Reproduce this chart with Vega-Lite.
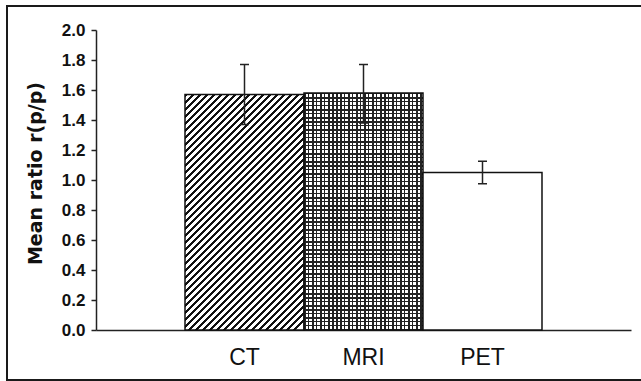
{
  "$schema": "https://vega.github.io/schema/vega-lite/v6.json",
  "width": 639,
  "height": 374,
  "autosize": {"type": "none"},
  "padding": {"left": 7, "top": 6, "right": -5, "bottom": 1},
  "background": "white",
  "config": {"view": {"stroke": "#1a1a1a", "strokeWidth": 2, "fill": "white"}},
  "data": {"values": [
    {"modality": "CT", "mean": 1.57, "lo": 1.37, "hi": 1.77},
    {"modality": "MRI", "mean": 1.58, "lo": 1.38, "hi": 1.77},
    {"modality": "PET", "mean": 1.05, "lo": 0.975, "hi": 1.125}
  ]},
  "encoding": {
    "x": {
      "field": "modality", "type": "nominal",
      "scale": {"domain": ["CT", "MRI", "PET"], "range": [89, 624], "paddingInner": 0, "paddingOuter": 0.7479},
      "axis": {"title": null, "orient": "bottom", "offset": -50, "labelAngle": 0, "ticks": false, "tickSize": 0, "labelPadding": 16, "labelFont": "Liberation Sans", "labelFontSize": 23, "labelColor": "#111", "domainColor": "#222", "domainWidth": 1.5}
    },
    "y": {
      "field": "mean", "type": "quantitative", "title": "Mean ratio r(p/p)",
      "scale": {"domain": [0, 2], "range": [324, 24], "nice": false, "zero": true},
      "axis": {"title": "Mean ratio r(p/p)", "orient": "left", "offset": -89, "values": [0, 0.2, 0.4, 0.6, 0.8, 1.0, 1.2, 1.4, 1.6, 1.8, 2.0], "format": ".1f", "grid": false, "tickSize": 5, "tickWidth": 1.5, "tickColor": "#222", "domainColor": "#222", "domainWidth": 1.5, "labelPadding": 6, "labelFont": "Liberation Sans", "labelFontSize": 17, "labelFontWeight": "bold", "labelColor": "#111", "titleFont": "DejaVu Sans", "titleFontSize": 19, "titleFontWeight": "bold", "titleColor": "#111", "titlePadding": 16, "titleY": 167}
    }
  },
  "layer": [
    {
      "transform": [{"filter": "datum.modality === 'CT'"}],
      "mark": {"type": "bar", "stroke": "#111", "strokeWidth": 1.5, "fill": {"gradient": "linear", "x1": 0, "y1": 0, "x2": 0.598, "y2": 1.184, "stops": [
        {"offset":0,"color":"#111"},{"offset":0.009,"color":"#111"},{"offset":0.009,"color":"#fff"},{"offset":0.02,"color":"#fff"},
        {"offset":0.02,"color":"#111"},{"offset":0.029,"color":"#111"},{"offset":0.029,"color":"#fff"},{"offset":0.04,"color":"#fff"},
        {"offset":0.04,"color":"#111"},{"offset":0.049,"color":"#111"},{"offset":0.049,"color":"#fff"},{"offset":0.06,"color":"#fff"},
        {"offset":0.06,"color":"#111"},{"offset":0.069,"color":"#111"},{"offset":0.069,"color":"#fff"},{"offset":0.08,"color":"#fff"},
        {"offset":0.08,"color":"#111"},{"offset":0.089,"color":"#111"},{"offset":0.089,"color":"#fff"},{"offset":0.1,"color":"#fff"},
        {"offset":0.1,"color":"#111"},{"offset":0.109,"color":"#111"},{"offset":0.109,"color":"#fff"},{"offset":0.12,"color":"#fff"},
        {"offset":0.12,"color":"#111"},{"offset":0.129,"color":"#111"},{"offset":0.129,"color":"#fff"},{"offset":0.14,"color":"#fff"},
        {"offset":0.14,"color":"#111"},{"offset":0.149,"color":"#111"},{"offset":0.149,"color":"#fff"},{"offset":0.16,"color":"#fff"},
        {"offset":0.16,"color":"#111"},{"offset":0.169,"color":"#111"},{"offset":0.169,"color":"#fff"},{"offset":0.18,"color":"#fff"},
        {"offset":0.18,"color":"#111"},{"offset":0.189,"color":"#111"},{"offset":0.189,"color":"#fff"},{"offset":0.2,"color":"#fff"},
        {"offset":0.2,"color":"#111"},{"offset":0.209,"color":"#111"},{"offset":0.209,"color":"#fff"},{"offset":0.22,"color":"#fff"},
        {"offset":0.22,"color":"#111"},{"offset":0.229,"color":"#111"},{"offset":0.229,"color":"#fff"},{"offset":0.24,"color":"#fff"},
        {"offset":0.24,"color":"#111"},{"offset":0.249,"color":"#111"},{"offset":0.249,"color":"#fff"},{"offset":0.26,"color":"#fff"},
        {"offset":0.26,"color":"#111"},{"offset":0.269,"color":"#111"},{"offset":0.269,"color":"#fff"},{"offset":0.28,"color":"#fff"},
        {"offset":0.28,"color":"#111"},{"offset":0.289,"color":"#111"},{"offset":0.289,"color":"#fff"},{"offset":0.3,"color":"#fff"},
        {"offset":0.3,"color":"#111"},{"offset":0.309,"color":"#111"},{"offset":0.309,"color":"#fff"},{"offset":0.32,"color":"#fff"},
        {"offset":0.32,"color":"#111"},{"offset":0.329,"color":"#111"},{"offset":0.329,"color":"#fff"},{"offset":0.34,"color":"#fff"},
        {"offset":0.34,"color":"#111"},{"offset":0.349,"color":"#111"},{"offset":0.349,"color":"#fff"},{"offset":0.36,"color":"#fff"},
        {"offset":0.36,"color":"#111"},{"offset":0.369,"color":"#111"},{"offset":0.369,"color":"#fff"},{"offset":0.38,"color":"#fff"},
        {"offset":0.38,"color":"#111"},{"offset":0.389,"color":"#111"},{"offset":0.389,"color":"#fff"},{"offset":0.4,"color":"#fff"},
        {"offset":0.4,"color":"#111"},{"offset":0.409,"color":"#111"},{"offset":0.409,"color":"#fff"},{"offset":0.42,"color":"#fff"},
        {"offset":0.42,"color":"#111"},{"offset":0.429,"color":"#111"},{"offset":0.429,"color":"#fff"},{"offset":0.44,"color":"#fff"},
        {"offset":0.44,"color":"#111"},{"offset":0.449,"color":"#111"},{"offset":0.449,"color":"#fff"},{"offset":0.46,"color":"#fff"},
        {"offset":0.46,"color":"#111"},{"offset":0.469,"color":"#111"},{"offset":0.469,"color":"#fff"},{"offset":0.48,"color":"#fff"},
        {"offset":0.48,"color":"#111"},{"offset":0.489,"color":"#111"},{"offset":0.489,"color":"#fff"},{"offset":0.5,"color":"#fff"},
        {"offset":0.5,"color":"#111"},{"offset":0.509,"color":"#111"},{"offset":0.509,"color":"#fff"},{"offset":0.52,"color":"#fff"},
        {"offset":0.52,"color":"#111"},{"offset":0.529,"color":"#111"},{"offset":0.529,"color":"#fff"},{"offset":0.54,"color":"#fff"},
        {"offset":0.54,"color":"#111"},{"offset":0.549,"color":"#111"},{"offset":0.549,"color":"#fff"},{"offset":0.56,"color":"#fff"},
        {"offset":0.56,"color":"#111"},{"offset":0.569,"color":"#111"},{"offset":0.569,"color":"#fff"},{"offset":0.58,"color":"#fff"},
        {"offset":0.58,"color":"#111"},{"offset":0.589,"color":"#111"},{"offset":0.589,"color":"#fff"},{"offset":0.6,"color":"#fff"},
        {"offset":0.6,"color":"#111"},{"offset":0.609,"color":"#111"},{"offset":0.609,"color":"#fff"},{"offset":0.62,"color":"#fff"},
        {"offset":0.62,"color":"#111"},{"offset":0.629,"color":"#111"},{"offset":0.629,"color":"#fff"},{"offset":0.64,"color":"#fff"},
        {"offset":0.64,"color":"#111"},{"offset":0.649,"color":"#111"},{"offset":0.649,"color":"#fff"},{"offset":0.66,"color":"#fff"},
        {"offset":0.66,"color":"#111"},{"offset":0.669,"color":"#111"},{"offset":0.669,"color":"#fff"},{"offset":0.68,"color":"#fff"},
        {"offset":0.68,"color":"#111"},{"offset":0.689,"color":"#111"},{"offset":0.689,"color":"#fff"},{"offset":0.7,"color":"#fff"},
        {"offset":0.7,"color":"#111"},{"offset":0.709,"color":"#111"},{"offset":0.709,"color":"#fff"},{"offset":0.72,"color":"#fff"},
        {"offset":0.72,"color":"#111"},{"offset":0.729,"color":"#111"},{"offset":0.729,"color":"#fff"},{"offset":0.74,"color":"#fff"},
        {"offset":0.74,"color":"#111"},{"offset":0.749,"color":"#111"},{"offset":0.749,"color":"#fff"},{"offset":0.76,"color":"#fff"},
        {"offset":0.76,"color":"#111"},{"offset":0.769,"color":"#111"},{"offset":0.769,"color":"#fff"},{"offset":0.78,"color":"#fff"},
        {"offset":0.78,"color":"#111"},{"offset":0.789,"color":"#111"},{"offset":0.789,"color":"#fff"},{"offset":0.8,"color":"#fff"},
        {"offset":0.8,"color":"#111"},{"offset":0.809,"color":"#111"},{"offset":0.809,"color":"#fff"},{"offset":0.82,"color":"#fff"},
        {"offset":0.82,"color":"#111"},{"offset":0.829,"color":"#111"},{"offset":0.829,"color":"#fff"},{"offset":0.84,"color":"#fff"},
        {"offset":0.84,"color":"#111"},{"offset":0.849,"color":"#111"},{"offset":0.849,"color":"#fff"},{"offset":0.86,"color":"#fff"},
        {"offset":0.86,"color":"#111"},{"offset":0.869,"color":"#111"},{"offset":0.869,"color":"#fff"},{"offset":0.88,"color":"#fff"},
        {"offset":0.88,"color":"#111"},{"offset":0.889,"color":"#111"},{"offset":0.889,"color":"#fff"},{"offset":0.9,"color":"#fff"},
        {"offset":0.9,"color":"#111"},{"offset":0.909,"color":"#111"},{"offset":0.909,"color":"#fff"},{"offset":0.92,"color":"#fff"},
        {"offset":0.92,"color":"#111"},{"offset":0.929,"color":"#111"},{"offset":0.929,"color":"#fff"},{"offset":0.94,"color":"#fff"},
        {"offset":0.94,"color":"#111"},{"offset":0.949,"color":"#111"},{"offset":0.949,"color":"#fff"},{"offset":0.96,"color":"#fff"},
        {"offset":0.96,"color":"#111"},{"offset":0.969,"color":"#111"},{"offset":0.969,"color":"#fff"},{"offset":0.98,"color":"#fff"},
        {"offset":0.98,"color":"#111"},{"offset":0.989,"color":"#111"},{"offset":0.989,"color":"#fff"},{"offset":1,"color":"#fff"}
      ]}}
    },
    {
      "transform": [{"filter": "datum.modality === 'MRI'"}],
      "mark": {"type": "bar", "fill": {"gradient": "linear", "x1": 0, "y1": 0, "x2": 0, "y2": 1, "stops": [
        {"offset":0,"color":"#222"},{"offset":0.006329,"color":"#222"},{"offset":0.006329,"color":"#fff"},{"offset":0.016878,"color":"#fff"},
        {"offset":0.016878,"color":"#222"},{"offset":0.023207,"color":"#222"},{"offset":0.023207,"color":"#fff"},{"offset":0.033755,"color":"#fff"},
        {"offset":0.033755,"color":"#222"},{"offset":0.040084,"color":"#222"},{"offset":0.040084,"color":"#fff"},{"offset":0.050633,"color":"#fff"},
        {"offset":0.050633,"color":"#222"},{"offset":0.056962,"color":"#222"},{"offset":0.056962,"color":"#fff"},{"offset":0.067511,"color":"#fff"},
        {"offset":0.067511,"color":"#222"},{"offset":0.07384,"color":"#222"},{"offset":0.07384,"color":"#fff"},{"offset":0.084388,"color":"#fff"},
        {"offset":0.084388,"color":"#222"},{"offset":0.090717,"color":"#222"},{"offset":0.090717,"color":"#fff"},{"offset":0.101266,"color":"#fff"},
        {"offset":0.101266,"color":"#222"},{"offset":0.107595,"color":"#222"},{"offset":0.107595,"color":"#fff"},{"offset":0.118143,"color":"#fff"},
        {"offset":0.118143,"color":"#222"},{"offset":0.124473,"color":"#222"},{"offset":0.124473,"color":"#fff"},{"offset":0.135021,"color":"#fff"},
        {"offset":0.135021,"color":"#222"},{"offset":0.14135,"color":"#222"},{"offset":0.14135,"color":"#fff"},{"offset":0.151899,"color":"#fff"},
        {"offset":0.151899,"color":"#222"},{"offset":0.158228,"color":"#222"},{"offset":0.158228,"color":"#fff"},{"offset":0.168776,"color":"#fff"},
        {"offset":0.168776,"color":"#222"},{"offset":0.175105,"color":"#222"},{"offset":0.175105,"color":"#fff"},{"offset":0.185654,"color":"#fff"},
        {"offset":0.185654,"color":"#222"},{"offset":0.191983,"color":"#222"},{"offset":0.191983,"color":"#fff"},{"offset":0.202532,"color":"#fff"},
        {"offset":0.202532,"color":"#222"},{"offset":0.208861,"color":"#222"},{"offset":0.208861,"color":"#fff"},{"offset":0.219409,"color":"#fff"},
        {"offset":0.219409,"color":"#222"},{"offset":0.225738,"color":"#222"},{"offset":0.225738,"color":"#fff"},{"offset":0.236287,"color":"#fff"},
        {"offset":0.236287,"color":"#222"},{"offset":0.242616,"color":"#222"},{"offset":0.242616,"color":"#fff"},{"offset":0.253165,"color":"#fff"},
        {"offset":0.253165,"color":"#222"},{"offset":0.259494,"color":"#222"},{"offset":0.259494,"color":"#fff"},{"offset":0.270042,"color":"#fff"},
        {"offset":0.270042,"color":"#222"},{"offset":0.276371,"color":"#222"},{"offset":0.276371,"color":"#fff"},{"offset":0.28692,"color":"#fff"},
        {"offset":0.28692,"color":"#222"},{"offset":0.293249,"color":"#222"},{"offset":0.293249,"color":"#fff"},{"offset":0.303797,"color":"#fff"},
        {"offset":0.303797,"color":"#222"},{"offset":0.310127,"color":"#222"},{"offset":0.310127,"color":"#fff"},{"offset":0.320675,"color":"#fff"},
        {"offset":0.320675,"color":"#222"},{"offset":0.327004,"color":"#222"},{"offset":0.327004,"color":"#fff"},{"offset":0.337553,"color":"#fff"},
        {"offset":0.337553,"color":"#222"},{"offset":0.343882,"color":"#222"},{"offset":0.343882,"color":"#fff"},{"offset":0.35443,"color":"#fff"},
        {"offset":0.35443,"color":"#222"},{"offset":0.360759,"color":"#222"},{"offset":0.360759,"color":"#fff"},{"offset":0.371308,"color":"#fff"},
        {"offset":0.371308,"color":"#222"},{"offset":0.377637,"color":"#222"},{"offset":0.377637,"color":"#fff"},{"offset":0.388186,"color":"#fff"},
        {"offset":0.388186,"color":"#222"},{"offset":0.394515,"color":"#222"},{"offset":0.394515,"color":"#fff"},{"offset":0.405063,"color":"#fff"},
        {"offset":0.405063,"color":"#222"},{"offset":0.411392,"color":"#222"},{"offset":0.411392,"color":"#fff"},{"offset":0.421941,"color":"#fff"},
        {"offset":0.421941,"color":"#222"},{"offset":0.42827,"color":"#222"},{"offset":0.42827,"color":"#fff"},{"offset":0.438819,"color":"#fff"},
        {"offset":0.438819,"color":"#222"},{"offset":0.445148,"color":"#222"},{"offset":0.445148,"color":"#fff"},{"offset":0.455696,"color":"#fff"},
        {"offset":0.455696,"color":"#222"},{"offset":0.462025,"color":"#222"},{"offset":0.462025,"color":"#fff"},{"offset":0.472574,"color":"#fff"},
        {"offset":0.472574,"color":"#222"},{"offset":0.478903,"color":"#222"},{"offset":0.478903,"color":"#fff"},{"offset":0.489451,"color":"#fff"},
        {"offset":0.489451,"color":"#222"},{"offset":0.495781,"color":"#222"},{"offset":0.495781,"color":"#fff"},{"offset":0.506329,"color":"#fff"},
        {"offset":0.506329,"color":"#222"},{"offset":0.512658,"color":"#222"},{"offset":0.512658,"color":"#fff"},{"offset":0.523207,"color":"#fff"},
        {"offset":0.523207,"color":"#222"},{"offset":0.529536,"color":"#222"},{"offset":0.529536,"color":"#fff"},{"offset":0.540084,"color":"#fff"},
        {"offset":0.540084,"color":"#222"},{"offset":0.546414,"color":"#222"},{"offset":0.546414,"color":"#fff"},{"offset":0.556962,"color":"#fff"},
        {"offset":0.556962,"color":"#222"},{"offset":0.563291,"color":"#222"},{"offset":0.563291,"color":"#fff"},{"offset":0.57384,"color":"#fff"},
        {"offset":0.57384,"color":"#222"},{"offset":0.580169,"color":"#222"},{"offset":0.580169,"color":"#fff"},{"offset":0.590717,"color":"#fff"},
        {"offset":0.590717,"color":"#222"},{"offset":0.597046,"color":"#222"},{"offset":0.597046,"color":"#fff"},{"offset":0.607595,"color":"#fff"},
        {"offset":0.607595,"color":"#222"},{"offset":0.613924,"color":"#222"},{"offset":0.613924,"color":"#fff"},{"offset":0.624473,"color":"#fff"},
        {"offset":0.624473,"color":"#222"},{"offset":0.630802,"color":"#222"},{"offset":0.630802,"color":"#fff"},{"offset":0.64135,"color":"#fff"},
        {"offset":0.64135,"color":"#222"},{"offset":0.647679,"color":"#222"},{"offset":0.647679,"color":"#fff"},{"offset":0.658228,"color":"#fff"},
        {"offset":0.658228,"color":"#222"},{"offset":0.664557,"color":"#222"},{"offset":0.664557,"color":"#fff"},{"offset":0.675105,"color":"#fff"},
        {"offset":0.675105,"color":"#222"},{"offset":0.681435,"color":"#222"},{"offset":0.681435,"color":"#fff"},{"offset":0.691983,"color":"#fff"},
        {"offset":0.691983,"color":"#222"},{"offset":0.698312,"color":"#222"},{"offset":0.698312,"color":"#fff"},{"offset":0.708861,"color":"#fff"},
        {"offset":0.708861,"color":"#222"},{"offset":0.71519,"color":"#222"},{"offset":0.71519,"color":"#fff"},{"offset":0.725738,"color":"#fff"},
        {"offset":0.725738,"color":"#222"},{"offset":0.732068,"color":"#222"},{"offset":0.732068,"color":"#fff"},{"offset":0.742616,"color":"#fff"},
        {"offset":0.742616,"color":"#222"},{"offset":0.748945,"color":"#222"},{"offset":0.748945,"color":"#fff"},{"offset":0.759494,"color":"#fff"},
        {"offset":0.759494,"color":"#222"},{"offset":0.765823,"color":"#222"},{"offset":0.765823,"color":"#fff"},{"offset":0.776371,"color":"#fff"},
        {"offset":0.776371,"color":"#222"},{"offset":0.7827,"color":"#222"},{"offset":0.7827,"color":"#fff"},{"offset":0.793249,"color":"#fff"},
        {"offset":0.793249,"color":"#222"},{"offset":0.799578,"color":"#222"},{"offset":0.799578,"color":"#fff"},{"offset":0.810127,"color":"#fff"},
        {"offset":0.810127,"color":"#222"},{"offset":0.816456,"color":"#222"},{"offset":0.816456,"color":"#fff"},{"offset":0.827004,"color":"#fff"},
        {"offset":0.827004,"color":"#222"},{"offset":0.833333,"color":"#222"},{"offset":0.833333,"color":"#fff"},{"offset":0.843882,"color":"#fff"},
        {"offset":0.843882,"color":"#222"},{"offset":0.850211,"color":"#222"},{"offset":0.850211,"color":"#fff"},{"offset":0.860759,"color":"#fff"},
        {"offset":0.860759,"color":"#222"},{"offset":0.867089,"color":"#222"},{"offset":0.867089,"color":"#fff"},{"offset":0.877637,"color":"#fff"},
        {"offset":0.877637,"color":"#222"},{"offset":0.883966,"color":"#222"},{"offset":0.883966,"color":"#fff"},{"offset":0.894515,"color":"#fff"},
        {"offset":0.894515,"color":"#222"},{"offset":0.900844,"color":"#222"},{"offset":0.900844,"color":"#fff"},{"offset":0.911392,"color":"#fff"},
        {"offset":0.911392,"color":"#222"},{"offset":0.917722,"color":"#222"},{"offset":0.917722,"color":"#fff"},{"offset":0.92827,"color":"#fff"},
        {"offset":0.92827,"color":"#222"},{"offset":0.934599,"color":"#222"},{"offset":0.934599,"color":"#fff"},{"offset":0.945148,"color":"#fff"},
        {"offset":0.945148,"color":"#222"},{"offset":0.951477,"color":"#222"},{"offset":0.951477,"color":"#fff"},{"offset":0.962025,"color":"#fff"},
        {"offset":0.962025,"color":"#222"},{"offset":0.968354,"color":"#222"},{"offset":0.968354,"color":"#fff"},{"offset":0.978903,"color":"#fff"},
        {"offset":0.978903,"color":"#222"},{"offset":0.985232,"color":"#222"},{"offset":0.985232,"color":"#fff"},{"offset":0.995781,"color":"#fff"},
        {"offset":0.995781,"color":"#222"},{"offset":1,"color":"#222"}
      ]}}
    },
    {
      "transform": [{"filter": "datum.modality === 'MRI'"}],
      "mark": {"type": "bar", "stroke": "#111", "strokeWidth": 1.5, "fill": {"gradient": "linear", "x1": 0, "y1": 0, "x2": 1, "y2": 0, "stops": [
        {"offset":0,"color":"#222"},{"offset":0.012605,"color":"#222"},{"offset":0.012605,"color":"rgba(0,0,0,0)"},{"offset":0.033613,"color":"rgba(0,0,0,0)"},
        {"offset":0.033613,"color":"#222"},{"offset":0.046218,"color":"#222"},{"offset":0.046218,"color":"rgba(0,0,0,0)"},{"offset":0.067227,"color":"rgba(0,0,0,0)"},
        {"offset":0.067227,"color":"#222"},{"offset":0.079832,"color":"#222"},{"offset":0.079832,"color":"rgba(0,0,0,0)"},{"offset":0.10084,"color":"rgba(0,0,0,0)"},
        {"offset":0.10084,"color":"#222"},{"offset":0.113445,"color":"#222"},{"offset":0.113445,"color":"rgba(0,0,0,0)"},{"offset":0.134454,"color":"rgba(0,0,0,0)"},
        {"offset":0.134454,"color":"#222"},{"offset":0.147059,"color":"#222"},{"offset":0.147059,"color":"rgba(0,0,0,0)"},{"offset":0.168067,"color":"rgba(0,0,0,0)"},
        {"offset":0.168067,"color":"#222"},{"offset":0.180672,"color":"#222"},{"offset":0.180672,"color":"rgba(0,0,0,0)"},{"offset":0.201681,"color":"rgba(0,0,0,0)"},
        {"offset":0.201681,"color":"#222"},{"offset":0.214286,"color":"#222"},{"offset":0.214286,"color":"rgba(0,0,0,0)"},{"offset":0.235294,"color":"rgba(0,0,0,0)"},
        {"offset":0.235294,"color":"#222"},{"offset":0.247899,"color":"#222"},{"offset":0.247899,"color":"rgba(0,0,0,0)"},{"offset":0.268908,"color":"rgba(0,0,0,0)"},
        {"offset":0.268908,"color":"#222"},{"offset":0.281513,"color":"#222"},{"offset":0.281513,"color":"rgba(0,0,0,0)"},{"offset":0.302521,"color":"rgba(0,0,0,0)"},
        {"offset":0.302521,"color":"#222"},{"offset":0.315126,"color":"#222"},{"offset":0.315126,"color":"rgba(0,0,0,0)"},{"offset":0.336134,"color":"rgba(0,0,0,0)"},
        {"offset":0.336134,"color":"#222"},{"offset":0.348739,"color":"#222"},{"offset":0.348739,"color":"rgba(0,0,0,0)"},{"offset":0.369748,"color":"rgba(0,0,0,0)"},
        {"offset":0.369748,"color":"#222"},{"offset":0.382353,"color":"#222"},{"offset":0.382353,"color":"rgba(0,0,0,0)"},{"offset":0.403361,"color":"rgba(0,0,0,0)"},
        {"offset":0.403361,"color":"#222"},{"offset":0.415966,"color":"#222"},{"offset":0.415966,"color":"rgba(0,0,0,0)"},{"offset":0.436975,"color":"rgba(0,0,0,0)"},
        {"offset":0.436975,"color":"#222"},{"offset":0.44958,"color":"#222"},{"offset":0.44958,"color":"rgba(0,0,0,0)"},{"offset":0.470588,"color":"rgba(0,0,0,0)"},
        {"offset":0.470588,"color":"#222"},{"offset":0.483193,"color":"#222"},{"offset":0.483193,"color":"rgba(0,0,0,0)"},{"offset":0.504202,"color":"rgba(0,0,0,0)"},
        {"offset":0.504202,"color":"#222"},{"offset":0.516807,"color":"#222"},{"offset":0.516807,"color":"rgba(0,0,0,0)"},{"offset":0.537815,"color":"rgba(0,0,0,0)"},
        {"offset":0.537815,"color":"#222"},{"offset":0.55042,"color":"#222"},{"offset":0.55042,"color":"rgba(0,0,0,0)"},{"offset":0.571429,"color":"rgba(0,0,0,0)"},
        {"offset":0.571429,"color":"#222"},{"offset":0.584034,"color":"#222"},{"offset":0.584034,"color":"rgba(0,0,0,0)"},{"offset":0.605042,"color":"rgba(0,0,0,0)"},
        {"offset":0.605042,"color":"#222"},{"offset":0.617647,"color":"#222"},{"offset":0.617647,"color":"rgba(0,0,0,0)"},{"offset":0.638655,"color":"rgba(0,0,0,0)"},
        {"offset":0.638655,"color":"#222"},{"offset":0.651261,"color":"#222"},{"offset":0.651261,"color":"rgba(0,0,0,0)"},{"offset":0.672269,"color":"rgba(0,0,0,0)"},
        {"offset":0.672269,"color":"#222"},{"offset":0.684874,"color":"#222"},{"offset":0.684874,"color":"rgba(0,0,0,0)"},{"offset":0.705882,"color":"rgba(0,0,0,0)"},
        {"offset":0.705882,"color":"#222"},{"offset":0.718487,"color":"#222"},{"offset":0.718487,"color":"rgba(0,0,0,0)"},{"offset":0.739496,"color":"rgba(0,0,0,0)"},
        {"offset":0.739496,"color":"#222"},{"offset":0.752101,"color":"#222"},{"offset":0.752101,"color":"rgba(0,0,0,0)"},{"offset":0.773109,"color":"rgba(0,0,0,0)"},
        {"offset":0.773109,"color":"#222"},{"offset":0.785714,"color":"#222"},{"offset":0.785714,"color":"rgba(0,0,0,0)"},{"offset":0.806723,"color":"rgba(0,0,0,0)"},
        {"offset":0.806723,"color":"#222"},{"offset":0.819328,"color":"#222"},{"offset":0.819328,"color":"rgba(0,0,0,0)"},{"offset":0.840336,"color":"rgba(0,0,0,0)"},
        {"offset":0.840336,"color":"#222"},{"offset":0.852941,"color":"#222"},{"offset":0.852941,"color":"rgba(0,0,0,0)"},{"offset":0.87395,"color":"rgba(0,0,0,0)"},
        {"offset":0.87395,"color":"#222"},{"offset":0.886555,"color":"#222"},{"offset":0.886555,"color":"rgba(0,0,0,0)"},{"offset":0.907563,"color":"rgba(0,0,0,0)"},
        {"offset":0.907563,"color":"#222"},{"offset":0.920168,"color":"#222"},{"offset":0.920168,"color":"rgba(0,0,0,0)"},{"offset":0.941176,"color":"rgba(0,0,0,0)"},
        {"offset":0.941176,"color":"#222"},{"offset":0.953782,"color":"#222"},{"offset":0.953782,"color":"rgba(0,0,0,0)"},{"offset":0.97479,"color":"rgba(0,0,0,0)"},
        {"offset":0.97479,"color":"#222"},{"offset":0.987395,"color":"#222"},{"offset":0.987395,"color":"rgba(0,0,0,0)"},{"offset":1,"color":"rgba(0,0,0,0)"}
      ]}}
    },
    {
      "transform": [{"filter": "datum.modality === 'PET'"}],
      "mark": {"type": "bar", "fill": "white", "stroke": "#111", "strokeWidth": 1.5}
    },
    {
      "mark": {"type": "rule", "stroke": "#222", "strokeWidth": 1.5},
      "encoding": {"y": {"field": "lo", "type": "quantitative", "title": "Mean ratio r(p/p)"}, "y2": {"field": "hi"}}
    },
    {
      "mark": {"type": "tick", "color": "#222", "thickness": 1.5, "size": 9, "opacity": 1},
      "encoding": {"y": {"field": "lo", "type": "quantitative", "title": "Mean ratio r(p/p)"}}
    },
    {
      "mark": {"type": "tick", "color": "#222", "thickness": 1.5, "size": 9, "opacity": 1},
      "encoding": {"y": {"field": "hi", "type": "quantitative", "title": "Mean ratio r(p/p)"}}
    }
  ]
}
